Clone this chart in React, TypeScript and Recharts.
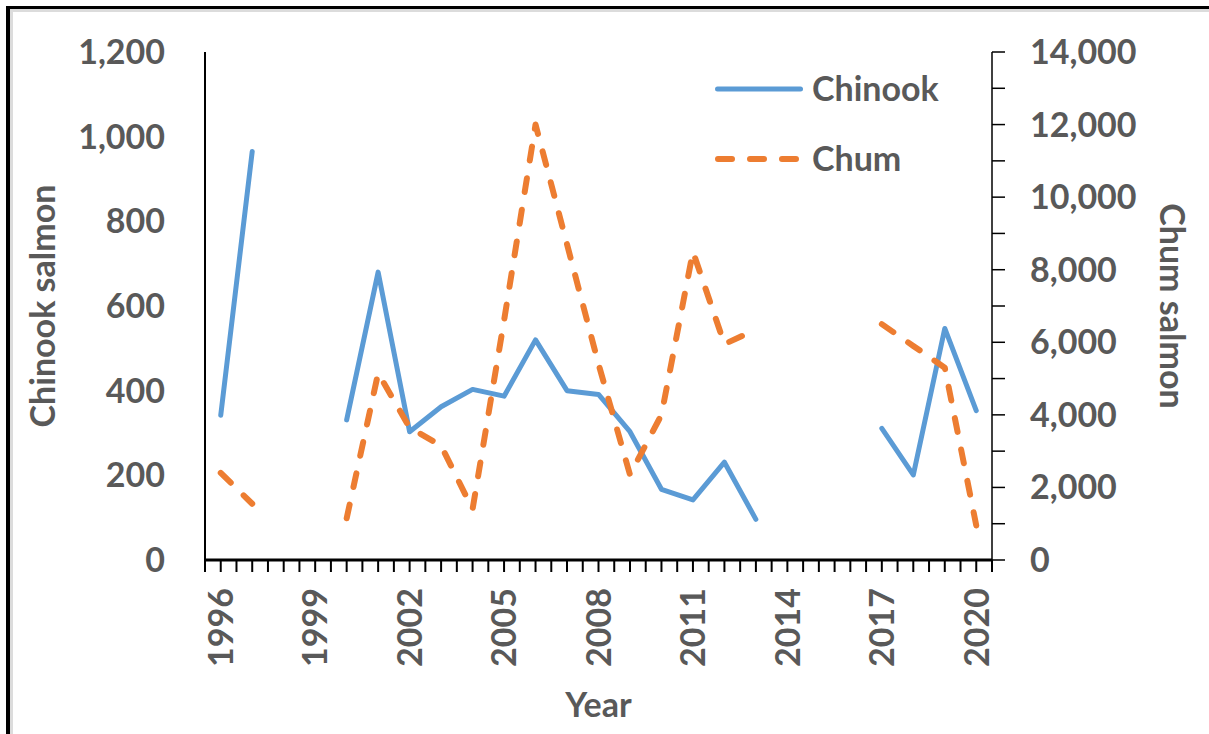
import { LineChart, Line, XAxis, YAxis } from 'recharts';

const years = [
  1996, 1997, 1998, 1999, 2000, 2001, 2002, 2003, 2004, 2005, 2006, 2007, 2008,
  2009, 2010, 2011, 2012, 2013, 2014, 2015, 2016, 2017, 2018, 2019, 2020,
];
const chinook = [
  342, 965, null, null, 331, 680, 303, 362, 403, 387, 520, 400, 391,
  303, 167, 142, 231, 96, null, null, null, 311, 201, 547, 353,
];
const chum = [
  2400, 1550, null, null, 1150, 5150, 3650, 3150, 1400, 6600, 12000, 8700, 5400,
  2350, 4000, 8500, 5950, 6350, null, null, null, 6500, 5900, 5300, 950,
];
const yearLabels = [1996, 1999, 2002, 2005, 2008, 2011, 2014, 2017, 2020];
const xTicks = Array.from({ length: 51 }, (_, i) => 1995.5 + i * 0.5);
const leftTicks = [0, 200, 400, 600, 800, 1000, 1200];
const rightTicks = Array.from({ length: 15 }, (_, i) => i * 1000);

const data = years.map((year, i) => ({ year, chinook: chinook[i], chum: chum[i] }));

const BLUE = '#5B9BD5';
const ORANGE = '#ED7D31';
const GREY = '#595959';
const FONT = 'Lato, "Open Sans", sans-serif';

const textStyle = { fill: GREY, fontSize: 34, fontWeight: 700, fontFamily: FONT };

const fmt = (v: number) => v.toLocaleString('en-US');

function YearTick(props: any) {
  const { x, y, payload } = props;
  if (!yearLabels.includes(payload.value)) return null;
  return (
    <g transform={`translate(${x},${y})`}>
      <text
        transform="rotate(-90)"
        textAnchor="end"
        dy="0.36em"
        fill={GREY}
        fontSize={34}
        fontWeight={700}
        fontFamily={FONT}
      >
        {payload.value}
      </text>
    </g>
  );
}

export default function App() {
  return (
    <div
      style={{
        position: 'fixed',
        left: 0,
        top: 0,
        width: 1209,
        height: 734,
        background: '#fff',
        overflow: 'hidden',
      }}
    >
      <LineChart
        width={1209}
        height={734}
        data={data}
        margin={{ top: 52, right: 0, bottom: 0, left: 0 }}
      >
        <XAxis
          dataKey="year"
          type="number"
          domain={[1995.5, 2020.5]}
          ticks={xTicks}
          interval={0}
          height={174}
          stroke="#000"
          strokeWidth={3}
          tickLine={{ stroke: '#000', strokeWidth: 2 }}
          tickSize={12}
          tickMargin={16}
          tick={<YearTick />}
          label={{ value: 'Year', position: 'insideBottom', offset: 17, ...textStyle }}
        />
        <YAxis
          yAxisId="left"
          domain={[0, 1200]}
          ticks={leftTicks}
          width={205}
          stroke="#000"
          strokeWidth={2}
          tickLine={false}
          tickSize={0}
          tickMargin={40}
          tickFormatter={fmt}
          tick={textStyle}
          label={{ value: 'Chinook salmon', angle: -90, position: 'center', dx: -60, ...textStyle }}
        />
        <YAxis
          yAxisId="right"
          orientation="right"
          domain={[0, 14000]}
          ticks={rightTicks}
          interval={0}
          width={217}
          stroke="#000"
          strokeWidth={1.5}
          tickLine={{ stroke: '#000', strokeWidth: 1.5 }}
          tickSize={13}
          tickMargin={25}
          tickFormatter={(v: number) => (v % 2000 === 0 ? fmt(v) : '')}
          tick={textStyle}
          label={{ value: 'Chum salmon', angle: 90, position: 'center', dx: 72, ...textStyle }}
        />
        <Line
          yAxisId="left"
          dataKey="chinook"
          stroke={BLUE}
          strokeWidth={5}
          strokeLinecap="round"
          strokeLinejoin="round"
          dot={false}
          activeDot={false}
          isAnimationActive={false}
        />
        <Line
          yAxisId="right"
          dataKey="chum"
          stroke={ORANGE}
          strokeWidth={6}
          strokeDasharray="14 18"
          strokeLinecap="round"
          strokeLinejoin="round"
          dot={false}
          activeDot={false}
          isAnimationActive={false}
        />
      </LineChart>

      {/* legend */}
      <svg
        width={260}
        height={130}
        style={{ position: 'absolute', left: 700, top: 60 }}
      >
        <line x1={17.5} y1={29} x2={100.5} y2={29} stroke={BLUE} strokeWidth={5} strokeLinecap="round" />
        <text x={112} y={41} {...textStyle}>Chinook</text>
        <line
          x1={18}
          y1={99}
          x2={100}
          y2={99}
          stroke={ORANGE}
          strokeWidth={6}
          strokeDasharray="14 18"
          strokeLinecap="round"
        />
        <text x={112} y={111}>
          <tspan {...textStyle}>Chum</tspan>
        </text>
      </svg>

      {/* frame */}
      <div
        style={{
          position: 'absolute',
          left: 6,
          top: 6,
          width: 1300,
          height: 900,
          borderLeft: '4px solid #000',
          borderTop: '3px solid #000',
          boxShadow: 'inset 3px 3px 0 #dcdcdc',
          pointerEvents: 'none',
        }}
      />
    </div>
  );
}
